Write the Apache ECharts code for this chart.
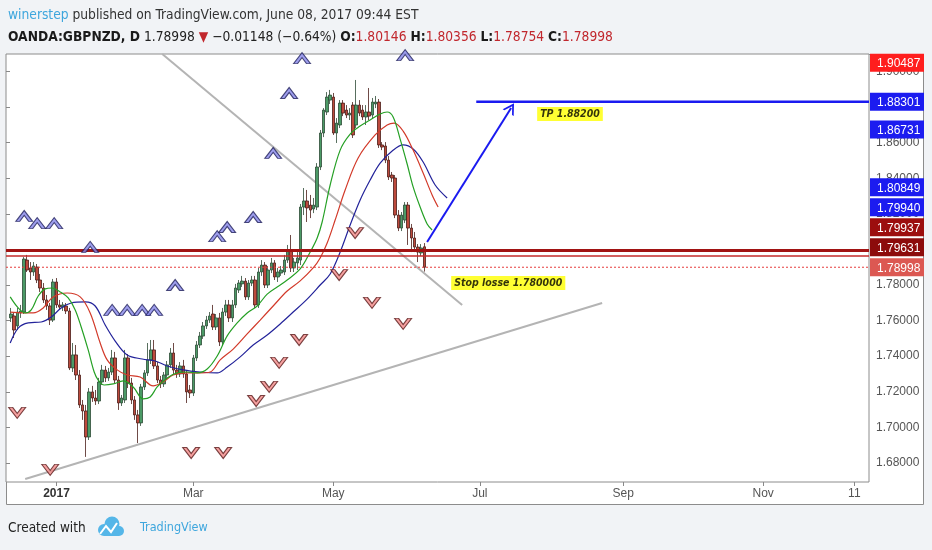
<!DOCTYPE html>
<html><head><meta charset="utf-8">
<script src="https://cdn.jsdelivr.net/npm/echarts@6/dist/echarts.min.js"></script>
<style>html,body{margin:0;padding:0;background:#f1f3f6;}#c{width:932px;height:550px;}</style>
</head><body><div id="c"></div>
<script>
// ---------- DATA ----------
const startDate = '2016-12-12';          // first weekday on the time axis
const dayCount = 265;                     // weekdays shown on the time axis
const firstCandle = 1;                    // index of first candle on the axis
// OANDA:GBPNZD daily candles [open, close, low, high]
const ohlc = [
[1.7615,1.7637,1.7592,1.7671],[1.7626,1.7547,1.7502,1.7648],[1.7570,1.7648,1.7547,1.7671],[1.7643,1.7654,1.7615,1.7688],
[1.7648,1.7946,1.7637,1.7957],[1.7940,1.7884,1.7873,1.7969],[1.7896,1.7873,1.7828,1.7929],[1.7873,1.7907,1.7851,1.7929],
[1.7901,1.7828,1.7811,1.7918],[1.7828,1.7783,1.7761,1.7862],[1.7783,1.7716,1.7699,1.7811],[1.7716,1.7682,1.7660,1.7744],
[1.7682,1.7603,1.7575,1.7699],[1.7603,1.7817,1.7592,1.7834],[1.7817,1.7688,1.7671,1.7839],[1.7688,1.7676,1.7660,1.7716],
[1.7676,1.7688,1.7654,1.7704],[1.7682,1.7654,1.7637,1.7699],[1.7654,1.7334,1.7322,1.7671],[1.7334,1.7407,1.7311,1.7474],
[1.7407,1.7294,1.7266,1.7463],[1.7294,1.7126,1.7109,1.7322],[1.7126,1.7092,1.7042,1.7154],[1.7092,1.6946,1.6834,1.7126],
[1.6946,1.7199,1.6929,1.7221],[1.7199,1.7165,1.7143,1.7233],[1.7165,1.7148,1.7126,1.7210],[1.7148,1.7255,1.7131,1.7278],
[1.7255,1.7322,1.7238,1.7351],[1.7322,1.7278,1.7255,1.7345],[1.7278,1.7311,1.7261,1.7334],[1.7311,1.7390,1.7294,1.7435],
[1.7390,1.7266,1.7249,1.7424],[1.7266,1.7137,1.7098,1.7289],[1.7137,1.7165,1.7120,1.7182],[1.7154,1.7390,1.7137,1.7435],
[1.7390,1.7249,1.7221,1.7412],[1.7249,1.7154,1.7131,1.7278],[1.7154,1.7070,1.7042,1.7176],[1.7070,1.7025,1.6912,1.7098],
[1.7025,1.7227,1.7008,1.7244],[1.7227,1.7306,1.7210,1.7322],[1.7306,1.7379,1.7289,1.7474],[1.7379,1.7435,1.7356,1.7491],
[1.7435,1.7345,1.7328,1.7491],[1.7345,1.7266,1.7249,1.7367],[1.7266,1.7244,1.7221,1.7289],[1.7244,1.7294,1.7227,1.7311],
[1.7294,1.7351,1.7278,1.7373],[1.7351,1.7418,1.7334,1.7446],[1.7418,1.7322,1.7300,1.7474],[1.7322,1.7300,1.7278,1.7351],
[1.7300,1.7345,1.7283,1.7367],[1.7345,1.7300,1.7278,1.7379],[1.7300,1.7199,1.7137,1.7317],[1.7210,1.7193,1.7165,1.7238],
[1.7193,1.7390,1.7176,1.7407],[1.7390,1.7463,1.7373,1.7485],[1.7463,1.7513,1.7446,1.7536],[1.7513,1.7570,1.7497,1.7592],
[1.7570,1.7603,1.7553,1.7626],[1.7603,1.7626,1.7587,1.7648],[1.7637,1.7564,1.7547,1.7688],[1.7564,1.7615,1.7547,1.7637],
[1.7615,1.7480,1.7457,1.7643],[1.7480,1.7648,1.7463,1.7671],[1.7648,1.7688,1.7626,1.7716],[1.7688,1.7615,1.7592,1.7716],
[1.7615,1.7688,1.7592,1.7716],[1.7688,1.7783,1.7671,1.7806],[1.7772,1.7811,1.7755,1.7828],[1.7806,1.7822,1.7789,1.7851],
[1.7822,1.7733,1.7716,1.7839],[1.7733,1.7811,1.7716,1.7828],[1.7811,1.7828,1.7794,1.7851],[1.7828,1.7688,1.7671,1.7851],
[1.7688,1.7873,1.7671,1.7896],[1.7873,1.7912,1.7851,1.7940],[1.7912,1.7800,1.7783,1.7929],[1.7800,1.7884,1.7783,1.7907],
[1.7884,1.7924,1.7867,1.7952],[1.7924,1.7845,1.7828,1.7940],[1.7845,1.7873,1.7817,1.7896],[1.7867,1.7884,1.7851,1.7907],
[1.7873,1.7940,1.7856,1.7969],[1.7940,1.7997,1.7924,1.8025],[1.7997,1.7896,1.7873,1.8081],[1.7896,1.7929,1.7873,1.7952],
[1.7924,1.7952,1.7884,1.7985],[1.7940,1.8238,1.7912,1.8255],[1.8238,1.8272,1.8193,1.8345],[1.8272,1.8233,1.8154,1.8334],
[1.8249,1.8221,1.8176,1.8306],[1.8227,1.8249,1.8204,1.8289],[1.8238,1.8463,1.8221,1.8485],[1.8463,1.8654,1.8446,1.8671],
[1.8654,1.8783,1.8631,1.8794],[1.8772,1.8856,1.8755,1.8884],[1.8839,1.8867,1.8817,1.8896],[1.8856,1.8654,1.8643,1.8879],
[1.8654,1.8710,1.8598,1.8738],[1.8699,1.8822,1.8682,1.8839],[1.8822,1.8766,1.8749,1.8839],[1.8783,1.8755,1.8738,1.8811],
[1.8755,1.8766,1.8727,1.8794],[1.8811,1.8643,1.8626,1.8828],[1.8699,1.8811,1.8682,1.8952],[1.8811,1.8766,1.8749,1.8839],
[1.8783,1.8744,1.8727,1.8811],[1.8744,1.8772,1.8699,1.8811],[1.8772,1.8749,1.8727,1.8907],[1.8755,1.8828,1.8738,1.8851],
[1.8817,1.8828,1.8794,1.8862],[1.8828,1.8587,1.8570,1.8845],[1.8587,1.8575,1.8558,1.8603],[1.8581,1.8502,1.8485,1.8603],
[1.8502,1.8407,1.8390,1.8525],[1.8418,1.8401,1.8379,1.8435],[1.8401,1.8193,1.8176,1.8418],[1.8193,1.8120,1.8103,1.8221],
[1.8120,1.8193,1.8103,1.8210],[1.8165,1.8249,1.8148,1.8266],[1.8249,1.8120,1.8025,1.8266],[1.8120,1.8064,1.7985,1.8143],
[1.8064,1.8013,1.7985,1.8098],[1.8013,1.7985,1.7929,1.8030],[1.7980,1.8008,1.7963,1.8030],[1.80146,1.78998,1.78754,1.80356]
];
// Alligator-style lines: [position along time axis (bars), price]
const lipsGreen = [[1.29,1.7733],[3.75,1.7671],[5.9,1.7643],[7.74,1.766],[9.89,1.7738],[12.05,1.7778],[14.18,1.7783],[16.64,1.7761],[19.1,1.7727],[21.25,1.766],[23.09,1.7564],[25.24,1.7435],[27.08,1.7311],[28.31,1.7266],[30.15,1.7238],[32.91,1.7244],[35.98,1.7261],[39.05,1.7227],[42.12,1.716],[44.27,1.7171],[46.42,1.7227],[49.49,1.7278],[52.56,1.7306],[55.63,1.7311],[58.7,1.7306],[61.78,1.7328],[64.85,1.7401],[67.92,1.7514],[70.99,1.7587],[74.06,1.7643],[77.13,1.7682],[80.2,1.7749],[83.27,1.7789],[86.34,1.7828],[90.33,1.789],[93.4,1.7985],[95.55,1.8064],[97.08,1.8154],[99.54,1.8362],[102.61,1.8558],[105.68,1.8648],[108.75,1.8693],[111.82,1.8727],[114.89,1.8761],[117.04,1.8772],[118.88,1.8744],[121.03,1.862],[123.18,1.848],[125.02,1.8351],[127.17,1.8238],[129.32,1.8143],[130.85,1.8109]];
const teethRed = [[1.29,1.7648],[8.35,1.7643],[11.42,1.7671],[14.49,1.7733],[18.79,1.7755],[22.78,1.7733],[25.85,1.7643],[28.92,1.7474],[31.07,1.7379],[34.14,1.7323],[37.21,1.7294],[41.2,1.7283],[45.19,1.7233],[48.26,1.7255],[51.33,1.7294],[55.63,1.7306],[59.62,1.7306],[62.69,1.7311],[65.77,1.7379],[69.76,1.744],[74.06,1.7525],[78.05,1.7603],[82.04,1.7682],[86.34,1.7766],[90.33,1.7823],[94.32,1.7896],[96.47,1.7952],[98.62,1.8036],[101.07,1.8165],[104.14,1.8334],[108.13,1.8514],[113.35,1.8643],[117.04,1.8699],[119.19,1.871],[121.95,1.8665],[125.02,1.8558],[128.09,1.8429],[130.85,1.8306],[132.69,1.8238]];
const jawBlue = [[1.29,1.7474],[3.75,1.7558],[6.82,1.7587],[10.81,1.7592],[13.88,1.762],[16.95,1.7671],[20.02,1.7699],[24.32,1.7705],[27.39,1.7682],[30.46,1.7575],[33.53,1.7485],[37.21,1.7407],[41.82,1.7384],[45.81,1.7373],[49.49,1.7345],[54.41,1.7323],[59.62,1.7311],[64.85,1.7306],[67.92,1.7339],[71.91,1.7396],[75.9,1.7463],[80.2,1.7519],[84.19,1.7581],[88.18,1.7648],[92.48,1.7721],[96.47,1.78],[99.54,1.7862],[102.61,1.7985],[105.68,1.8137],[108.75,1.8278],[111.82,1.839],[114.89,1.8485],[118.58,1.8553],[121.95,1.8587],[125.02,1.8564],[128.09,1.8491],[131.78,1.8362],[135.46,1.8289]];
// fractal markers [position (bars), price]
const upFractals = [[5.59,1.8188],[9.58,1.8148],[14.8,1.8148],[25.85,1.8014],[32.6,1.766],[37.2,1.766],[41.8,1.766],[45.5,1.766],[51.95,1.78],[64.85,1.8075],[67.92,1.8126],[75.9,1.8182],[82.04,1.8542],[86.95,1.8879],[90.9,1.9075],[122.56,1.9092]];
const downFractals = [[3.44,1.7081],[13.57,1.6761],[56.86,1.6856],[66.7,1.6856],[76.82,1.7148],[80.81,1.7227],[83.88,1.7362],[90.02,1.7491],[102.3,1.7856],[107.2,1.8092],[112.4,1.7699],[121.95,1.7581]];
// drawings
const trendDown = [[47.98,1.9098],[140.07,1.76876]];
const trendUp = [[5.9,1.67101],[183.05,1.76989]];
const arrowFrom = [129.3,1.80416];
const arrowTo = [155.1,1.8795];
const tpLevel = 1.88301;
const tpStart = 144.4;
const resistLevels = [1.79937,1.79631];
const lastClose = 1.78998;
const noteTexts = ['TP 1.88200','Stop losse 1.780000'];
const notePos = [[163.1,1.87607],[136.7,1.78112]];
// axes
const yMin = 1.6693, yMax = 1.9098;
const yTicks = [1.68,1.70,1.72,1.74,1.76,1.78,1.80,1.82,1.84,1.86,1.88,1.90];
const xTickDates = ['2017-01-02','2017-03-01','2017-05-01','2017-07-03','2017-09-01','2017-11-01','2017-12-11'];
const xTickTexts = ['2017','Mar','May','Jul','Sep','Nov','11'];
const tagValues = [1.90487,1.88301,1.86731,1.80849,1.79940,1.79937,1.79631,1.78998];
const tagColors = ['#ff1e1e','#1c1cf0','#1c1cf0','#1c1cf0','#1c1cf0','#9c0e0e','#8c0b0b','#dc5852'];

// ---------- BUILD ----------
const categories = [];
(function(){
  let d = new Date(startDate + 'T00:00:00Z');
  while (categories.length < dayCount) {
    const wd = d.getUTCDay();
    if (wd !== 0 && wd !== 6) categories.push(d.toISOString().slice(0,10));
    d = new Date(d.getTime() + 86400000);
  }
})();
const tickIdx = xTickDates.map(s => categories.indexOf(s));
const candleData = [];
for (let i = 0; i < firstCandle; i++) candleData.push(['-','-','-','-']);
ohlc.forEach(r => candleData.push(r));

const FONT = '"Liberation Sans", Arial, sans-serif';
const NARROW = '"Liberation Sans Narrow", "DejaVu Sans Condensed", sans-serif';
const UP = 'path://M0,11 L8.5,0 L17,11 L13,11 L8.5,5 L4,11 Z';
const DOWN = 'path://M0,0 L8.5,11 L17,0 L13,0 L8.5,6 L4,0 Z';
const ARROW = 'path://M0,10 L6,0 L12,10 L10.2,10 L6,3.2 L1.8,10 Z';
const hLine = (level) => [[0, level], [dayCount, level]];

const isTick = (i) => tickIdx.indexOf(i) >= 0;
const chart = echarts.init(document.getElementById('c'));
chart.setOption({
  animation: false,
  backgroundColor: '#f1f3f6',
  grid: {left: 6, right: 63, top: 54, bottom: 68, show: true, backgroundColor: '#ffffff', borderColor: '#8c8c8c', borderWidth: 1},
  xAxis: [
    {type: 'category', data: categories, boundaryGap: true, axisLine: {show: false},
     axisTick: {show: true, interval: (i) => isTick(i), alignWithLabel: true, length: 4, lineStyle: {color: '#888'}},
     axisLabel: {interval: (i) => isTick(i), color: '#555', fontSize: 12, fontFamily: FONT, margin: 6,
       formatter: (v, i) => { const k = tickIdx.indexOf(i); const t = k >= 0 ? xTickTexts[k] : ''; return k === 0 ? '{b|' + t + '}' : t; },
       rich: {b: {fontWeight: 'bold', color: '#333', fontSize: 12, fontFamily: FONT}}},
     splitLine: {show: false}},
    {type: 'value', min: 0, max: dayCount, show: false}
  ],
  yAxis: {type: 'value', position: 'right', min: yMin, max: yMax, scale: true,
    axisLine: {show: false}, splitLine: {show: false},
    axisTick: {show: true, customValues: yTicks, length: 4, lineStyle: {color: '#888'}},
    axisLabel: {customValues: yTicks, formatter: (v) => v.toFixed(5), color: '#555', fontSize: 12, fontFamily: FONT, margin: 7}},
  series: [
    {type: 'candlestick', xAxisIndex: 0, data: candleData, barWidth: '92%', z: 3,
     itemStyle: {color: '#4b9a66', color0: '#bd4a3d', borderColor: '#2d4a36', borderColor0: '#4a1d18', borderWidth: 0.8}},
    {type: 'line', xAxisIndex: 1, data: hLine(resistLevels[1]), symbol: 'none', lineStyle: {color: '#c42a2a', width: 1.5}, z: 5},
    {type: 'line', xAxisIndex: 1, data: hLine(resistLevels[0]), symbol: 'none', lineStyle: {color: '#a11313', width: 3}, z: 5},
    {type: 'line', xAxisIndex: 1, data: hLine(lastClose), symbol: 'none', lineStyle: {color: '#e63c3c', width: 1, type: [2, 2]}, z: 5},
    {type: 'line', xAxisIndex: 1, data: trendDown, symbol: 'none', lineStyle: {color: '#b4b4b4', width: 2}, z: 2},
    {type: 'line', xAxisIndex: 1, data: trendUp, symbol: 'none', lineStyle: {color: '#b4b4b4', width: 2}, z: 2},
    {type: 'line', xAxisIndex: 1, data: jawBlue, symbol: 'none', smooth: 0.35, lineStyle: {color: '#23239a', width: 1.2}, z: 4},
    {type: 'line', xAxisIndex: 1, data: teethRed, symbol: 'none', smooth: 0.35, lineStyle: {color: '#d23a2a', width: 1.2}, z: 4},
    {type: 'line', xAxisIndex: 1, data: lipsGreen, symbol: 'none', smooth: 0.35, lineStyle: {color: '#25a025', width: 1.2}, z: 4},
    {type: 'line', xAxisIndex: 1, data: [[tpStart, tpLevel], [dayCount, tpLevel]], symbol: 'none', lineStyle: {color: '#1a1af0', width: 2.5}, z: 5,
     markLine: {silent: true, symbol: ['none', ARROW], symbolSize: [13, 11], label: {show: false},
       lineStyle: {color: '#1a1af0', width: 2, type: 'solid'},
       data: [[{coord: arrowFrom}, {coord: arrowTo}]]}},
    {type: 'scatter', xAxisIndex: 1, data: upFractals, symbol: UP, symbolSize: [17, 11], clip: true, z: 6,
     itemStyle: {color: '#8686e8', borderColor: '#20205a', borderWidth: 1}},
    {type: 'scatter', xAxisIndex: 1, data: downFractals, symbol: DOWN, symbolSize: [17, 11], clip: true, z: 6,
     itemStyle: {color: '#f28a88', borderColor: '#5a1c1c', borderWidth: 1}},
    {type: 'scatter', xAxisIndex: 1, symbolSize: 0, z: 7,
     data: notePos.map((p, i) => ({value: p, name: noteTexts[i]})),
     label: {show: true, position: 'right', distance: 0, formatter: '{b}', backgroundColor: '#ffff00', color: '#000',
       fontStyle: 'italic', fontWeight: 'bold', fontSize: 10.5, fontFamily: NARROW, padding: [2, 3, 1, 3]}}
  ]
});

// price tags on the right axis, stacked upward so they do not overlap
const axisX = chart.convertToPixel({xAxisIndex: 1}, dayCount);
const order = tagValues.map((v, i) => i).sort((a, b) => tagValues[a] - tagValues[b]);
const tagY = [];
let prev = Infinity;
order.forEach(i => { let y = chart.convertToPixel({yAxisIndex: 0}, tagValues[i]); y = Math.min(y, prev - 20); tagY[i] = y; prev = y; });
const tagEls = [];
tagValues.forEach((v, i) => {
  tagEls.push({type: 'rect', id: 'tr' + i, z: 50, shape: {x: axisX + 1, y: tagY[i] - 9, width: 54, height: 18}, style: {fill: tagColors[i]}});
  tagEls.push({type: 'text', id: 'tt' + i, z: 51, style: {x: axisX + 8, y: tagY[i] + 1, text: v.toFixed(5), fill: '#fff', fontSize: 12, fontFamily: FONT, verticalAlign: 'middle'}});
});

const HS = 13.7;
chart.setOption({graphic: [
  {type: 'rect', id: 'frame', z: -10, silent: true, shape: {x: 6.5, y: 54.5, width: 917, height: 450}, style: {fill: '#ffffff', stroke: '#8c8c8c', lineWidth: 1}},
  {type: 'text', id: 'h1', style: {x: 8, y: 15, verticalAlign: 'middle', fontSize: HS, fontFamily: NARROW,
    text: '{u|winerstep} {p|published on TradingView.com, June 08, 2017 09:44 EST}',
    rich: {u: {fill: '#3ea6dd', fontSize: HS, fontFamily: NARROW}, p: {fill: '#333', fontSize: HS, fontFamily: NARROW}}}},
  {type: 'text', id: 'h2', style: {x: 8, y: 37, verticalAlign: 'middle', fontSize: HS, fontFamily: NARROW, fill: '#222',
    text: '{b|OANDA:GBPNZD, D} {n|1.78998} {r|▼} {n|−0.01148 (−0.64%)} {b|O:}{r|1.80146} {b|H:}{r|1.80356} {b|L:}{r|1.78754} {b|C:}{r|1.78998}',
    rich: {b: {fill: '#1a1a1a', fontWeight: 'bold', fontSize: HS, fontFamily: NARROW},
           n: {fill: '#222', fontSize: HS, fontFamily: NARROW},
           r: {fill: '#c1272d', fontSize: HS, fontFamily: NARROW}}}},
  {type: 'text', id: 'f1', style: {x: 8, y: 528, verticalAlign: 'middle', text: 'Created with', fill: '#222', fontSize: 13.5, fontFamily: NARROW}},
  {type: 'group', id: 'logo', children: [
    {type: 'circle', shape: {cx: 104, cy: 530, r: 6}, style: {fill: '#55b6e8'}},
    {type: 'circle', shape: {cx: 112, cy: 524, r: 7.5}, style: {fill: '#55b6e8'}},
    {type: 'circle', shape: {cx: 119, cy: 531, r: 5}, style: {fill: '#55b6e8'}},
    {type: 'rect', shape: {x: 104, y: 529, width: 15, height: 7}, style: {fill: '#55b6e8'}},
    {type: 'polyline', shape: {points: [[100, 534], [106, 526], [111, 532], [117, 523]]}, style: {stroke: '#ffffff', lineWidth: 2, fill: null}}
  ]},
  {type: 'text', id: 'f2', style: {x: 140, y: 528, verticalAlign: 'middle', text: 'TradingView', fill: '#3ea6dd', fontSize: 12.5, fontFamily: NARROW}}
].concat(tagEls)});
</script>
</body></html>
